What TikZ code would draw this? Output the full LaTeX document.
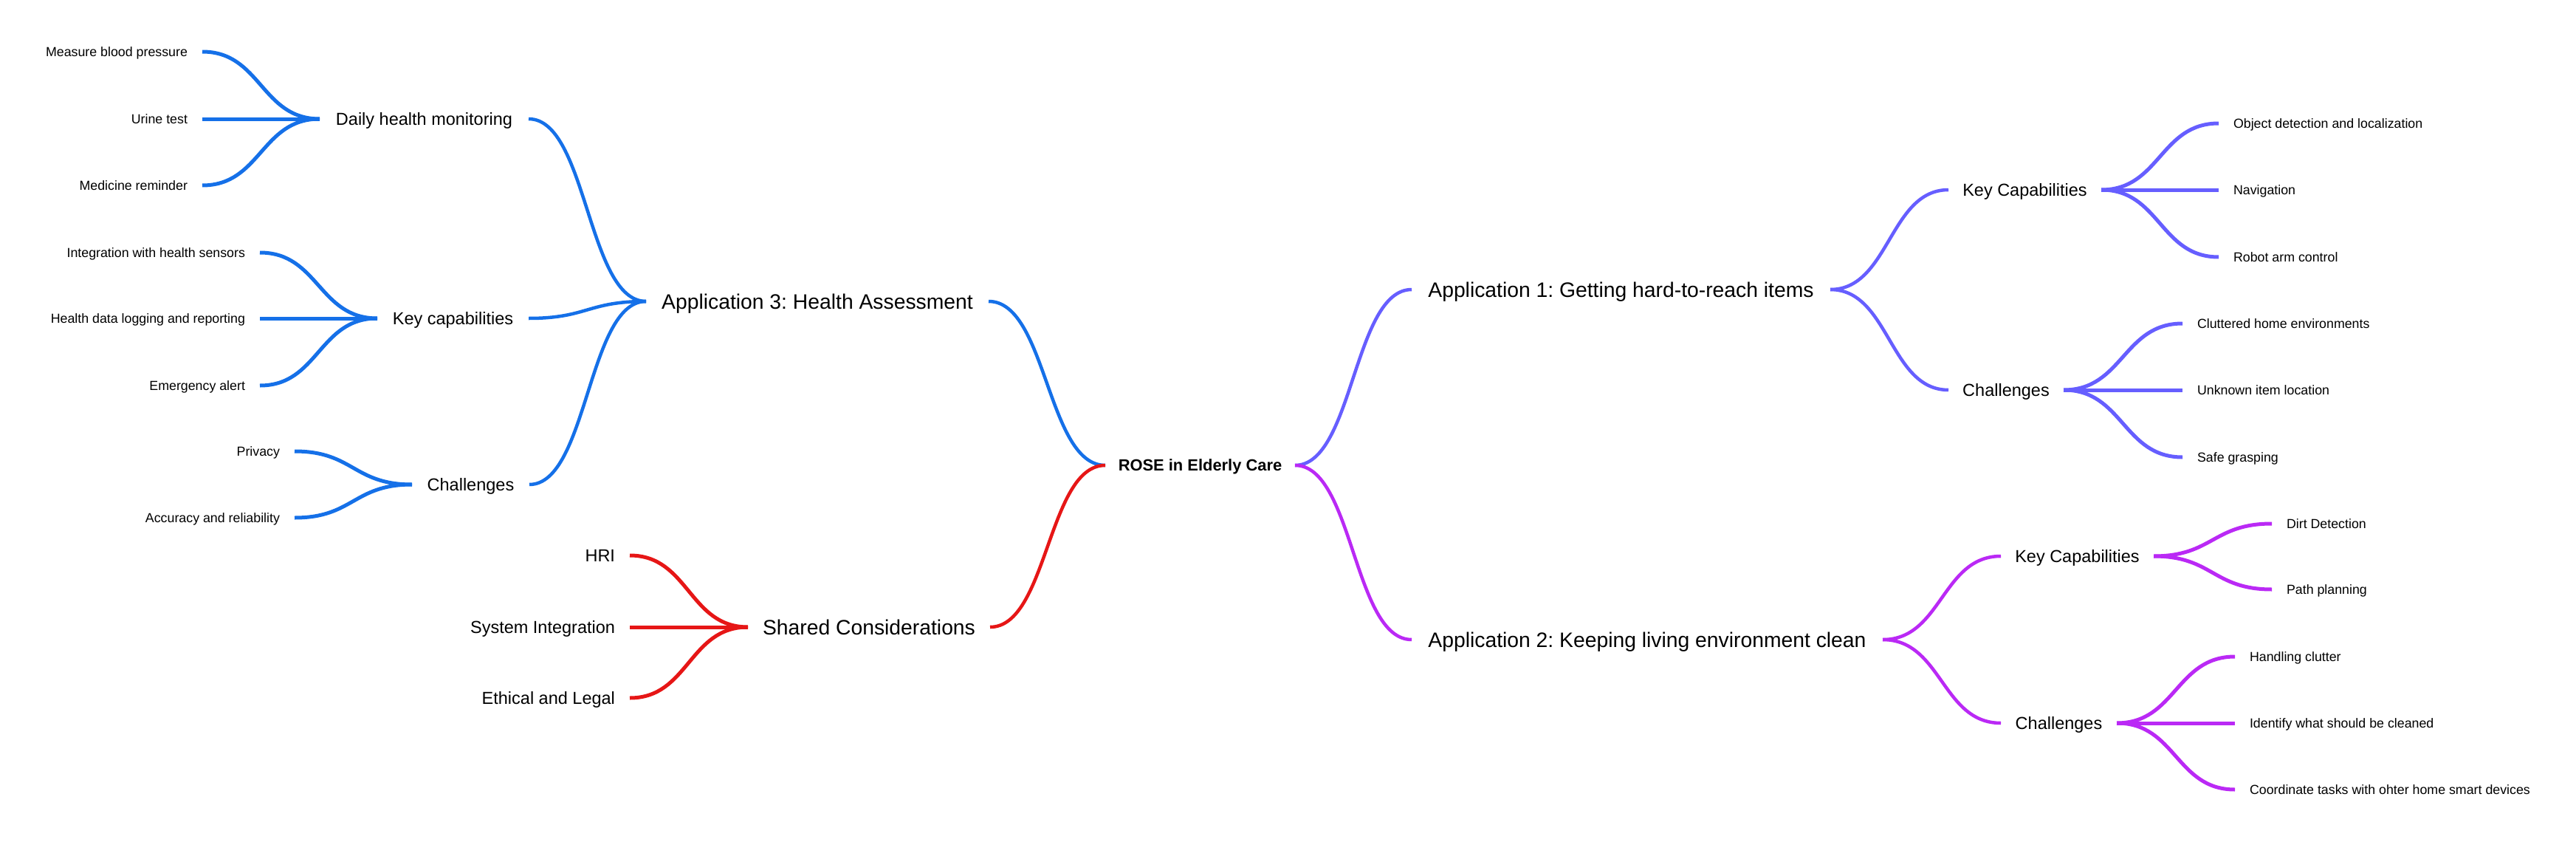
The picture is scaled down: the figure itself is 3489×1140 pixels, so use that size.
\documentclass[tikz,border=0pt]{standalone}
\usepackage{fontspec}
\setmainfont{Liberation Sans}
\usetikzlibrary{calc}
\definecolor{bluec}{RGB}{21,112,232}
\definecolor{redc}{RGB}{230,22,22}
\definecolor{indigoc}{RGB}{102,94,255}
\definecolor{purplec}{RGB}{186,41,245}
\newcommand\myfsroot{\fontsize{21.9}{26}\selectfont\bfseries}
\newcommand\myfsone{\fontsize{28.3}{34}\selectfont}
\newcommand\myfstwo{\fontsize{23.5}{28}\selectfont}
\newcommand\myfsthree{\fontsize{17.8}{21}\selectfont}
\frenchspacing
\begin{document}
\begin{tikzpicture}[x=1pt,y=-1pt,
  curve/.style={to path={let \p1=(\tikztostart), \p2=(\tikztotarget) in
     (\p1) .. controls ({0.5*\x1+0.5*\x2},\y1) and ({0.5*\x1+0.5*\x2},\y2) .. (\p2)}},
  base/.style={inner ysep=0pt, outer sep=0pt, text depth=0pt},
  rootnode/.style={base, font=\myfsroot, text height=15.7pt, inner xsep=0pt},
  lvone/.style={base, font=\myfsone, text height=20.3pt, inner xsep=0pt},
  lvtwo/.style={base, font=\myfstwo, text height=16.8pt, inner xsep=0pt},
  leafL/.style={base, font=\myfsthree, text height=12.7pt, inner xsep=20pt, anchor=east},
  leafR/.style={base, font=\myfsthree, text height=12.7pt, inner xsep=20pt, anchor=west},
  lk/.style={line width=4.5pt},
  lkleaf/.style={line width=5pt}]
\useasboundingbox (0,0) rectangle (3489,1140);

% root
\node[rootnode, minimum width=257pt] (rose) at (1625.5,630) {ROSE in Elderly Care};

% Application 3 (blue)
\node[lvone, minimum width=464pt] (app3) at (1107,408) {Application 3: Health Assessment};
\node[lvtwo, minimum width=283pt] (daily) at (574.5,161) {Daily health monitoring};
\node[lvtwo, minimum width=205pt] (keyc3) at (613.5,431) {Key capabilities};
\node[lvtwo, minimum width=159pt] (chal3) at (637.5,656) {Challenges};
\node[leafL] (m1) at (274,70) {Measure blood pressure};
\node[leafL] (m2) at (274,161) {Urine test};
\node[leafL] (m3) at (274,251) {Medicine reminder};
\node[leafL] (k1) at (352,342) {Integration with health sensors};
\node[leafL] (k2) at (352,431) {Health data logging and reporting};
\node[leafL] (k3) at (352,522) {Emergency alert};
\node[leafL] (c1) at (399,611) {Privacy};
\node[leafL] (c2) at (399,701) {Accuracy and reliability};

% Shared (red)
\node[lvone, minimum width=328pt] (shared) at (1177,849) {Shared Considerations};
\node[leafL, font=\myfstwo, text height=16.8pt] (h1) at (853,752) {HRI};
\node[leafL, font=\myfstwo, text height=16.8pt] (h2) at (853,849) {System Integration};
\node[leafL, font=\myfstwo, text height=16.8pt] (h3) at (853,945) {Ethical and Legal};

% Application 1 (indigo)
\node[lvone, minimum width=567pt] (app1) at (2195.5,392) {Application 1: Getting hard-to-reach items};
\node[lvtwo, minimum width=207pt] (kc1) at (2742.5,257) {Key Capabilities};
\node[lvtwo, minimum width=156pt] (ch1) at (2717,528) {Challenges};
\node[leafR] (o1) at (3005,167) {Object detection and localization};
\node[leafR] (o2) at (3005,257) {Navigation};
\node[leafR] (o3) at (3005,348) {Robot arm control};
\node[leafR] (u1) at (2956,438) {Cluttered home environments};
\node[leafR] (u2) at (2956,528) {Unknown item location};
\node[leafR] (u3) at (2956,619) {Safe grasping};

% Application 2 (purple)
\node[lvone, minimum width=638pt] (app2) at (2231,866) {Application 2: Keeping living environment clean};
\node[lvtwo, minimum width=207pt] (kc2) at (2813.5,753) {Key Capabilities};
\node[lvtwo, minimum width=157pt] (ch2) at (2788.5,979) {Challenges};
\node[leafR] (d1) at (3077,709) {Dirt Detection};
\node[leafR] (d2) at (3077,798) {Path planning};
\node[leafR] (p1) at (3027,889) {Handling clutter};
\node[leafR] (p2) at (3027,979) {Identify what should be cleaned};
\node[leafR] (p3) at (3027,1069) {Coordinate tasks with ohter home smart devices};

% connectors: blue
\begin{scope}[draw=bluec]
\draw[lk] (rose.west) to[curve] (app3.east);
\draw[lk] (app3.west) to[curve] (daily.east);
\draw[lk] (app3.west) to[curve] (keyc3.east);
\draw[lk] (app3.west) to[curve] (chal3.east);
\draw[lkleaf] (daily.west) to[curve] (m1.east);
\draw[lkleaf] (daily.west) to[curve] (m2.east);
\draw[lkleaf] (daily.west) to[curve] (m3.east);
\draw[lkleaf] (keyc3.west) to[curve] (k1.east);
\draw[lkleaf] (keyc3.west) to[curve] (k2.east);
\draw[lkleaf] (keyc3.west) to[curve] (k3.east);
\draw[lkleaf] (chal3.west) to[curve] (c1.east);
\draw[lkleaf] (chal3.west) to[curve] (c2.east);
\end{scope}
% red
\begin{scope}[draw=redc]
\draw[lk] (rose.west) to[curve] (shared.east);
\draw[lkleaf] (shared.west) to[curve] (h1.east);
\draw[lkleaf] (shared.west) to[curve] (h2.east);
\draw[lkleaf] (shared.west) to[curve] (h3.east);
\end{scope}
% indigo
\begin{scope}[draw=indigoc]
\draw[lk] (rose.east) to[curve] (app1.west);
\draw[lk] (app1.east) to[curve] (kc1.west);
\draw[lk] (app1.east) to[curve] (ch1.west);
\draw[lkleaf] (kc1.east) to[curve] (o1.west);
\draw[lkleaf] (kc1.east) to[curve] (o2.west);
\draw[lkleaf] (kc1.east) to[curve] (o3.west);
\draw[lkleaf] (ch1.east) to[curve] (u1.west);
\draw[lkleaf] (ch1.east) to[curve] (u2.west);
\draw[lkleaf] (ch1.east) to[curve] (u3.west);
\end{scope}
% purple
\begin{scope}[draw=purplec]
\draw[lk] (rose.east) to[curve] (app2.west);
\draw[lk] (app2.east) to[curve] (kc2.west);
\draw[lk] (app2.east) to[curve] (ch2.west);
\draw[lkleaf] (kc2.east) to[curve] (d1.west);
\draw[lkleaf] (kc2.east) to[curve] (d2.west);
\draw[lkleaf] (ch2.east) to[curve] (p1.west);
\draw[lkleaf] (ch2.east) to[curve] (p2.west);
\draw[lkleaf] (ch2.east) to[curve] (p3.west);
\end{scope}
\end{tikzpicture}
\end{document}
